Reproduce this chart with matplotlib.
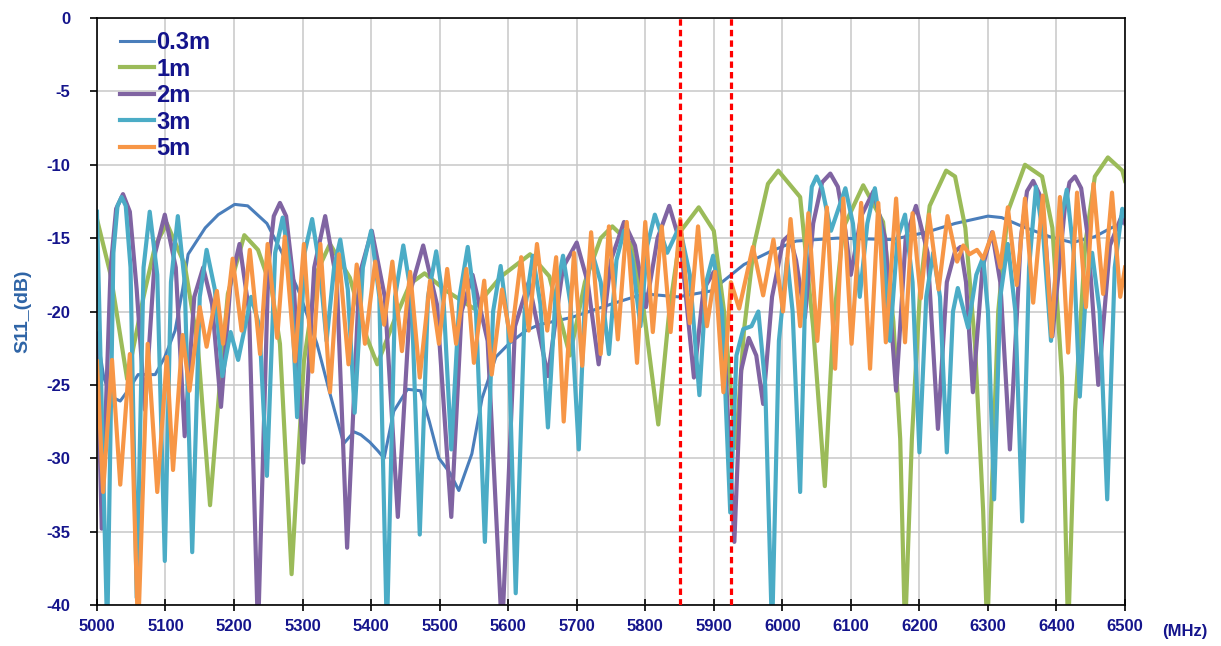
import matplotlib
matplotlib.use('Agg')
import matplotlib.pyplot as plt

plt.rcParams['font.family'] = ['Liberation Sans', 'DejaVu Sans']
plt.rcParams['axes.unicode_minus'] = False

# S11 traces (frequency in MHz, return loss in dB)
f_03m = [5000, 5010, 5020, 5034, 5048, 5060, 5085, 5099, 5114, 5125, 5133, 5158, 5177, 5201,
         5220, 5248, 5270, 5296, 5321, 5340, 5360, 5375, 5385, 5398, 5410, 5419, 5433, 5453,
         5472, 5485, 5499, 5515, 5528, 5547, 5562, 5582, 5601, 5626, 5645, 5693, 5750, 5798,
         5848, 5896, 5944, 5983, 6020, 6080, 6160, 6210, 6252, 6300, 6320, 6350, 6390, 6423,
         6456, 6480, 6500]
s_03m = [-21.5, -24.5, -25.8, -26.1, -25.2, -24.3, -24.3, -23.1, -21.3, -18.5, -16.1, -14.3,
         -13.4, -12.7, -12.8, -14.0, -16.0, -18.8, -22.2, -25.6, -29.0, -28.2, -28.4, -28.9,
         -29.5, -30.0, -26.8, -25.3, -25.4, -27.5, -30.0, -31.0, -32.2, -29.7, -25.9, -23.1,
         -22.2, -21.3, -20.9, -20.4, -19.5, -18.8, -19.0, -18.6, -16.8, -15.9, -15.2, -15.0,
         -15.1, -14.6, -14.0, -13.5, -13.6, -14.2, -14.9, -15.3, -14.9, -14.3, -13.9]

f_1m = [5000, 5020, 5044, 5068, 5085, 5102, 5128, 5147, 5165, 5180, 5191, 5215, 5235, 5255,
        5267, 5277, 5284, 5292, 5302, 5321, 5340, 5369, 5394, 5409, 5433, 5457, 5478, 5510,
        5550, 5590, 5632, 5660, 5690, 5712, 5735, 5752, 5779, 5798, 5819, 5835, 5852, 5878,
        5900, 5915, 5932, 5944, 5959, 5979, 5994, 6026, 6045, 6062, 6074, 6089, 6118, 6147,
        6162, 6172, 6179, 6189, 6201, 6215, 6239, 6252, 6267, 6281, 6293, 6299, 6305, 6315,
        6329, 6354, 6379, 6394, 6408, 6417, 6427, 6442, 6456, 6475, 6496, 6500]
s_1m = [-13.7, -17.5, -24.6, -19.0, -15.5, -14.0, -16.8, -22.2, -33.2, -24.5, -18.8, -14.8,
        -15.8, -18.5, -22.2, -31.3, -37.9, -31.3, -23.4, -17.3, -15.4, -17.7, -21.8, -23.6,
        -20.7, -18.1, -17.4, -18.6, -19.8, -17.6, -16.1, -17.6, -23.0, -18.0, -15.0, -14.2,
        -15.4, -20.0, -27.7, -20.0, -14.5, -12.9, -14.5, -20.0, -29.3, -21.3, -15.4, -11.3,
        -10.4, -12.2, -21.1, -31.9, -21.1, -14.3, -11.4, -13.9, -20.7, -28.7, -42.0, -28.7,
        -18.5, -12.8, -10.4, -10.8, -14.3, -22.2, -33.6, -42.0, -33.0, -20.0, -13.2, -10.0,
        -10.8, -14.3, -24.5, -42.0, -26.8, -15.4, -10.8, -9.5, -10.4, -11.1]

f_2m = [5000, 5007, 5020, 5028, 5038, 5048, 5058, 5070, 5085, 5099, 5115, 5128, 5142, 5155,
        5168, 5181, 5195, 5208, 5222, 5235, 5250, 5258, 5267, 5276, 5287, 5301, 5317, 5333,
        5350, 5365, 5383, 5401, 5420, 5439, 5458, 5476, 5496, 5517, 5532, 5548, 5570, 5591,
        5610, 5630, 5658, 5680, 5700, 5716, 5732, 5750, 5769, 5785, 5801, 5818, 5835, 5852,
        5871, 5885, 5900, 5915, 5930, 5940, 5951, 5962, 5972, 5985, 6001, 6010, 6020, 6033,
        6045, 6058, 6070, 6081, 6092, 6100, 6115, 6133, 6150, 6166, 6180, 6195, 6212, 6227,
        6240, 6252, 6260, 6268, 6278, 6292, 6306, 6318, 6332, 6348, 6357, 6366, 6375, 6384,
        6394, 6412, 6419, 6427, 6436, 6446, 6461, 6478, 6495, 6500]
s_2m = [-21.5, -34.8, -17.0, -13.0, -12.0, -13.2, -18.5, -26.7, -16.0, -13.4, -17.0, -28.5,
        -19.0, -17.0, -19.5, -26.5, -18.0, -15.4, -20.0, -42.0, -17.0, -13.5, -12.6, -13.5,
        -18.0, -30.3, -17.0, -13.5, -18.0, -36.1, -17.5, -14.5, -19.0, -34.0, -18.5, -15.5,
        -19.5, -34.0, -20.0, -17.5, -22.0, -42.0, -21.0, -18.0, -24.4, -17.0, -15.3, -18.0,
        -23.6, -16.5, -13.9, -15.5, -19.7, -15.0, -12.8, -15.5, -24.5, -18.5, -17.3, -22.0,
        -35.7, -24.0, -21.8, -23.0, -26.3, -19.0, -15.2, -14.8, -16.5, -20.4, -14.0, -11.2,
        -10.6, -11.5, -14.5, -17.5, -13.5, -11.8, -15.0, -25.4, -15.0, -12.8, -16.0, -28.0,
        -18.0, -15.9, -15.6, -18.0, -25.5, -17.0, -14.6, -18.0, -29.4, -15.0, -11.8, -11.1,
        -12.0, -15.0, -21.7, -13.0, -11.2, -10.8, -11.6, -15.0, -25.0, -15.5, -13.5, -14.0]

f_3m = [5000, 5015, 5024, 5030, 5036, 5042, 5049, 5058, 5068, 5077, 5088, 5099, 5108, 5118,
        5128, 5139, 5150, 5160, 5172, 5183, 5195, 5206, 5225, 5237, 5248, 5260, 5271, 5282,
        5292, 5303, 5314, 5325, 5335, 5346, 5355, 5366, 5376, 5388, 5400, 5412, 5423, 5435,
        5447, 5459, 5471, 5483, 5495, 5506, 5517, 5529, 5541, 5553, 5566, 5578, 5589, 5600,
        5611, 5624, 5636, 5647, 5658, 5669, 5680, 5691, 5703, 5712, 5722, 5735, 5747, 5758,
        5769, 5781, 5793, 5803, 5814, 5832, 5850, 5865, 5879, 5889, 5899, 5912, 5924, 5933,
        5943, 5955, 5965, 5975, 5985, 5995, 6007, 6015, 6026, 6035, 6043, 6050, 6058, 6071,
        6092, 6103, 6113, 6124, 6135, 6146, 6157, 6168, 6179, 6190, 6200, 6210, 6220, 6230,
        6240, 6249, 6256, 6271, 6283, 6293, 6300, 6309, 6318, 6329, 6340, 6350, 6360, 6370,
        6381, 6392, 6403, 6415, 6425, 6434, 6443, 6452, 6463, 6474, 6485, 6496, 6500]
s_3m = [-13.2, -42.0, -16.0, -12.8, -12.2, -12.8, -17.0, -39.5, -17.0, -13.2, -17.5, -37.0,
        -18.0, -13.5, -18.0, -36.4, -19.0, -15.8, -18.5, -24.4, -21.4, -23.3, -19.0, -21.0,
        -31.2, -16.0, -13.6, -17.0, -27.2, -16.0, -13.7, -17.0, -22.0, -17.0, -15.1, -18.5,
        -26.9, -17.0, -14.5, -19.0, -42.0, -19.0, -15.5, -19.0, -35.2, -19.0, -15.9, -19.5,
        -29.4, -19.0, -15.6, -20.0, -35.7, -20.0, -16.9, -21.0, -39.2, -20.0, -16.2, -19.5,
        -27.9, -19.0, -16.2, -19.5, -29.4, -19.0, -15.9, -18.0, -22.9, -16.5, -14.5, -16.5,
        -21.0, -15.5, -13.4, -16.0, -14.2, -17.5, -25.7, -18.0, -16.2, -20.0, -33.7, -23.0,
        -21.2, -21.0, -20.0, -25.0, -42.0, -22.0, -16.4, -20.0, -32.3, -16.0, -11.5, -10.8,
        -11.6, -14.5, -11.6, -14.0, -19.0, -14.0, -11.6, -15.0, -22.0, -15.0, -13.4, -18.0,
        -29.6, -19.0, -16.0, -19.0, -29.6, -20.0, -18.4, -21.1, -17.5, -16.3, -20.0, -32.8,
        -19.0, -15.4, -20.0, -34.3, -17.0, -11.5, -15.0, -22.0, -14.5, -11.7, -16.0, -25.8,
        -18.5, -16.0, -20.0, -32.8, -17.0, -13.0, -13.5]

f_5m = [5000, 5009, 5022, 5034, 5048, 5060, 5074, 5088, 5102, 5111, 5125, 5135, 5150, 5160,
        5175, 5184, 5198, 5211, 5223, 5238, 5249, 5263, 5274, 5289, 5302, 5314, 5326, 5340,
        5353, 5367, 5379, 5391, 5406, 5419, 5431, 5445, 5457, 5471, 5486, 5499, 5511, 5524,
        5539, 5550, 5565, 5576, 5591, 5604, 5619, 5630, 5642, 5657, 5670, 5681, 5696, 5708,
        5721, 5735, 5747, 5760, 5773, 5788, 5800, 5811, 5824, 5837, 5851, 5865, 5877, 5890,
        5902, 5914, 5925, 5937, 5957, 5972, 5987, 6001, 6012, 6026, 6038, 6051, 6065, 6077,
        6089, 6101, 6115, 6128, 6140, 6151, 6166, 6179, 6190, 6202, 6214, 6228, 6241, 6255,
        6264, 6273, 6284, 6293, 6307, 6318, 6329, 6342, 6354, 6366, 6380, 6393, 6405, 6417,
        6430, 6443, 6454, 6468, 6481, 6493, 6500]
s_5m = [-23.4, -32.3, -23.3, -31.8, -22.9, -42.0, -22.2, -32.3, -23.1, -30.8, -21.6, -25.4,
        -19.7, -22.4, -18.6, -22.2, -16.4, -21.3, -15.8, -22.9, -15.4, -21.8, -14.9, -23.4,
        -15.4, -24.1, -15.4, -25.5, -16.1, -23.6, -16.8, -22.2, -16.6, -20.9, -16.6, -22.7,
        -17.3, -24.5, -17.9, -22.2, -17.1, -22.2, -17.1, -23.5, -17.9, -24.3, -18.5, -22.0,
        -16.3, -21.3, -15.4, -21.3, -16.3, -27.5, -16.0, -23.7, -14.6, -22.9, -14.2, -21.9,
        -13.9, -23.5, -13.9, -21.4, -14.2, -21.4, -13.7, -20.8, -14.2, -21.0, -17.3, -25.5,
        -18.0, -19.8, -15.6, -18.9, -15.1, -20.0, -13.7, -21.0, -13.3, -22.0, -12.9, -23.9,
        -12.3, -22.2, -12.6, -23.9, -12.6, -22.1, -12.3, -22.1, -13.3, -19.1, -13.4, -18.5,
        -13.5, -16.6, -15.5, -16.1, -15.8, -16.4, -14.6, -17.0, -12.9, -18.2, -12.3, -19.4,
        -12.1, -21.7, -12.2, -22.8, -11.9, -19.7, -11.3, -18.8, -11.9, -19.0, -17.0]

labels = ['0.3m', '1m', '2m', '3m', '5m']
colors = ['#4a7ebb', '#9bbb59', '#8064a2', '#4bacc6', '#f79646']
markers_f = [5850, 5925]  # dashed band edges

fig = plt.figure(figsize=(12.21, 6.46), dpi=100)
ax = fig.add_axes([0.0794, 0.0635, 0.8420, 0.9086])

series = [(f_03m, s_03m), (f_1m, s_1m), (f_2m, s_2m), (f_3m, s_3m), (f_5m, s_5m)]
for (f, s), lab, c in zip(series, labels, colors):
    lw = 2.2 if lab == '0.3m' else 3.0
    ax.plot(f, s, color=c, lw=lw, label=lab, solid_joinstyle='round')

for xv in markers_f:
    ax.axvline(xv, color='#ff0000', lw=2.3, ls=(0, (2.0, 1.3)), zorder=5)

ax.set_xlim(5000, 6500)
ax.set_ylim(-40, 0)
ax.set_xticks(range(5000, 6501, 100))
ax.set_yticks(range(-40, 1, 5))
ax.grid(True, color='#c8c8c8', lw=1.1)
ax.set_axisbelow(True)
for sp in ax.spines.values():
    sp.set_linewidth(1.2)
    sp.set_color('black')

navy = '#14148c'
ax.tick_params(axis='both', colors='black', labelcolor=navy, labelsize=12, width=1.2)
ax.tick_params(axis='x', direction='inout', length=8, pad=6)
ax.tick_params(axis='y', direction='out', length=5, pad=14)
for t in ax.get_xticklabels() + ax.get_yticklabels():
    t.set_fontweight('bold')

ax.set_ylabel('S11_(dB)', color='#2e64a6', fontsize=14, fontweight='bold', labelpad=11)
ax.annotate('(MHz)', xy=(1.058, -0.046), xycoords='axes fraction', ha='center', va='center',
            color=navy, fontsize=12, fontweight='bold')

leg = ax.legend(loc='upper left', bbox_to_anchor=(0.01, 1.0), frameon=False, fontsize=17,
                handlelength=1.45, handletextpad=0.08, labelspacing=0.15, borderaxespad=0.15)
for t in leg.get_texts():
    t.set_color(navy)
    t.set_fontweight('bold')

fig.savefig('out.png', dpi=100)
